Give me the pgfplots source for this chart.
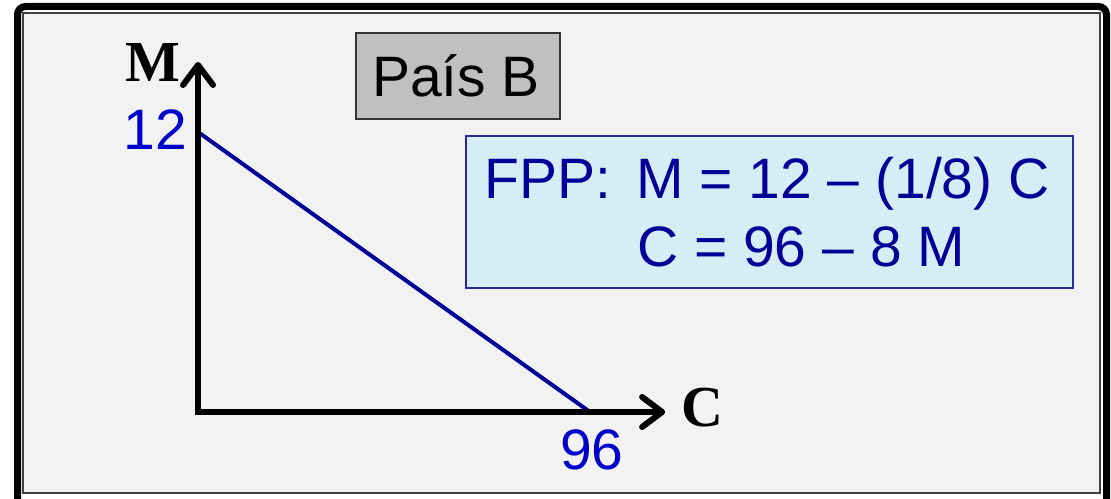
\documentclass[border=0pt]{standalone}
\usepackage{pgfplots}
\pgfplotsset{compat=1.18}
\usepackage{fontspec}
\setmainfont{Liberation Sans}
\newfontfamily\serifb{Liberation Serif}
\usetikzlibrary{arrows.meta}
\definecolor{bg}{HTML}{F2F2F2}
\definecolor{navy}{HTML}{000099}
\definecolor{numblue}{HTML}{0000CC}
\definecolor{boxfill}{HTML}{D5EDF5}
\definecolor{boxgray}{HTML}{C0C0C0}
\definecolor{boxline}{HTML}{2A2AA0}
\begin{document}
\begin{tikzpicture}
% frame (pixel coordinates, y downward)
\begin{scope}[x=1pt,y=-1pt,yshift=498pt]
  \fill[white] (0,0) rectangle (1111,498);
  \draw[line width=7pt, rounded corners=8pt] (17.5,6.5) rectangle (1106.5,510);
  \draw[line width=2pt, draw=black!75, fill=bg] (23,13) rectangle (1099.5,493);
\end{scope}
\begin{axis}[at={(0pt,0pt)}, anchor=south west, scale only axis,
  width=1111pt, height=498pt,
  xmin=-48.49, xmax=223.59, ymin=-3.686, ymax=17.657,
  axis lines=none, ticks=none, clip=false]
  \addplot[navy, line width=4pt] coordinates {(0,12) (96,0)};
  \draw[black, line width=6pt, line join=miter,
    {Straight Barb[length=20pt,width=30pt,line cap=round,line join=round]}-{Straight Barb[length=20pt,width=30pt,line cap=round,line join=round]}]
    (axis cs:0,15) -- (axis cs:0,0) -- (axis cs:114.4,0);
\end{axis}
\begin{scope}[x=1pt,y=-1pt,yshift=498pt]
  \node[anchor=base, inner sep=0pt, font=\serifb\bfseries\fontsize{58}{58}\selectfont] at (153,82) {M};
  \node[anchor=base, inner sep=0pt, font=\serifb\bfseries\fontsize{58}{58}\selectfont] at (702,427) {C};
  \node[anchor=base east, inner sep=0pt, text=numblue, font=\fontsize{57}{57}\selectfont] at (187,150) {12};
  \node[anchor=base, inner sep=0pt, text=numblue, font=\fontsize{57}{57}\selectfont] at (592,470) {96};
  \draw[fill=boxgray, draw=black!80, line width=1.5pt] (356,33) rectangle (560,119);
  \node[anchor=base, inner sep=0pt, font=\fontsize{57}{57}\selectfont] at (456,97) {País B};
  \draw[fill=boxfill, draw=boxline, line width=1.5pt] (466,136) rectangle (1073,288);
  \node[anchor=base west, inner sep=0pt, text=navy, font=\fontsize{57}{57}\selectfont] at (484,199) {FPP:};
  \node[anchor=base west, inner sep=0pt, text=navy, font=\fontsize{57}{57}\selectfont] at (636,199) {M = 12 – (1/8) C};
  \node[anchor=base west, inner sep=0pt, text=navy, font=\fontsize{57}{57}\selectfont] at (637,267) {C = 96 – 8 M};
\end{scope}
\pgfresetboundingbox
\path[use as bounding box] (0,0) rectangle (1111pt,498pt);
\end{tikzpicture}
\end{document}
